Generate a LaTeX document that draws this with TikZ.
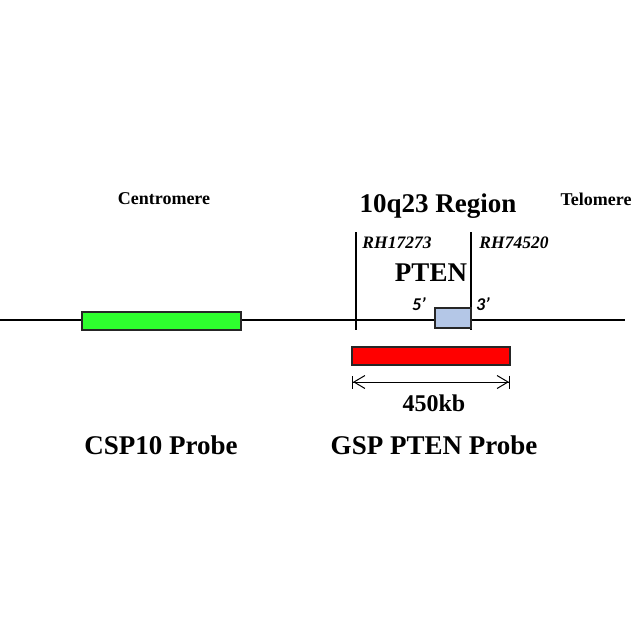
\documentclass[tikz,border=0pt]{standalone}
\usepackage{fontspec}
\setmainfont{Liberation Serif}
\newfontfamily\calfont{Carlito}
\usetikzlibrary{arrows.meta}
\definecolor{probegreen}{HTML}{2EFF2E}
\definecolor{probered}{HTML}{FF0000}
\definecolor{ptenblue}{HTML}{B4C7E7}
\begin{document}
\begin{tikzpicture}[x=1pt,y=-1pt,
  box/.style={draw=black!85,line width=1.2pt,inner sep=0pt,minimum height=18pt},
  lbl/.style={inner sep=0pt,font=\bfseries},
  marker/.style={inner sep=0pt,font=\bfseries\itshape\fontsize{17.5}{20}\selectfont},
  prime/.style={inner sep=0pt,font=\calfont\bfseries\itshape\fontsize{18}{20}\selectfont},
  chrline/.style={line width=1.2pt},
  dimline/.style={line width=1pt,{Bar[width=13pt]Straight Barb[length=11pt,width=13pt]}-{Straight Barb[length=11pt,width=13pt]Bar[width=13pt]}}]
\useasboundingbox (0,0) rectangle (638,638);
% chromosome line
\coordinate (L) at (0,320);
\coordinate (R) at (625,320);
\draw[chrline] (L) -- (R);
% marker lines
\coordinate (m1t) at (356,232);
\coordinate (m1b) at (356,330);
\coordinate (m2t) at (471,232);
\coordinate (m2b) at (471,330);
\draw[chrline] (m1t) -- (m1b);
\draw[chrline] (m2t) -- (m2b);
% boxes
\node[box,fill=probegreen,minimum width=159pt] (csp) at (161.5,321) {};
\node[box,fill=ptenblue,minimum width=36pt,minimum height=20pt] (pten) at (453,318) {};
\node[box,fill=probered,minimum width=158pt] (gsp) at (431,356) {};
% dimension arrow
\coordinate (a1) at (352,382);
\coordinate (a2) at (510,382);
\draw[dimline] (a1) -- (a2);
% labels
\node[lbl,font=\bfseries\fontsize{18}{20}\selectfont] (cen) at (164,199) {Centromere};
\node[lbl,font=\bfseries\fontsize{18}{20}\selectfont] (tel) at (596,199) {Telomere};
\node[lbl,font=\bfseries\fontsize{27}{30}\selectfont] (reg) at (438,206) {10q23 Region};
\node[marker] (rh1) at (397,243) {RH17273};
\node[marker] (rh2) at (514,243) {RH74520};
\node[lbl,font=\bfseries\fontsize{27}{30}\selectfont] (ptenlbl) at (431,273) {PTEN};
\node[prime] (five) at (419,304) {5’};
\node[prime] (three) at (483,304) {3’};
\node[lbl,font=\bfseries\fontsize{24}{28}\selectfont] (kb) at (434,403) {450kb};
\node[lbl,font=\bfseries\fontsize{27}{30}\selectfont] (cspl) at (161,445) {CSP10 Probe};
\node[lbl,font=\bfseries\fontsize{27}{30}\selectfont] (gspl) at (434,445) {GSP PTEN Probe};
\end{tikzpicture}
\end{document}
